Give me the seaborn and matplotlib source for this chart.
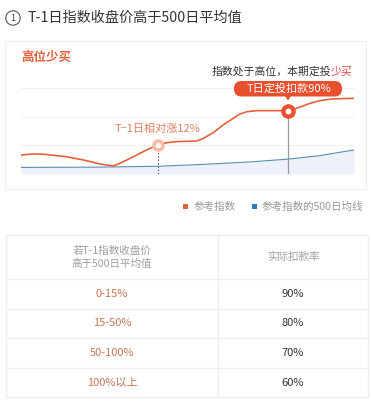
import matplotlib
matplotlib.use("Agg")
import matplotlib.pyplot as plt
import seaborn as sns
import pandas as pd
from matplotlib.patches import Rectangle, FancyBboxPatch, Polygon, Circle

# ---------------- data ----------------
index_x = [0, 3.7, 6.7, 13.7, 18.7, 23.7, 27.7, 29.7, 33.7, 37.7, 41.2, 43.7, 46.7,
           52.7, 54.7, 57.7, 60.7, 63.7, 65.7, 67.7, 70.7, 75.7, 80.3, 82.7, 86.7,
           89.7, 93.7, 100]
index_y = [0.66, 0.70, 0.69, 0.60, 0.49, 0.35, 0.28, 0.37, 0.60, 0.84, 1.01, 1.09, 1.13,
           1.15, 1.24, 1.44, 1.71, 1.94, 2.09, 2.17, 2.21, 2.21, 2.21, 2.29, 2.46,
           2.56, 2.62, 2.64]
ma_x = [0, 23.7, 41.2, 53.7, 68.7, 80.3, 89.7, 100]
ma_y = [0.23, 0.24, 0.27, 0.33, 0.42, 0.52, 0.64, 0.84]
t1_point = (41.2, 1.01)
t_point = (80.3, 2.21)

legend_labels = ["参考指数", "参考指数的500日均线"]
table_header = ["若T-1指数收盘价\n高于500日平均值", "实际扣款率"]
table_ranges = ["0-15%", "15-50%", "50-100%", "100%以上"]
table_rates = ["90%", "80%", "70%", "60%"]

ORANGE = "#e3623c"
RED = "#e8502e"
BLUE = "#5a8db0"
FILL = "#edf2fa"

sns.set_theme(style="white")
plt.rcParams['font.family'] = ['Noto Sans CJK SC', 'DejaVu Sans']

W, H = 371, 408
fig = plt.figure(figsize=(W / 100, H / 100), dpi=100)
fig.patch.set_facecolor("white")

# overlay axes in pixel coordinates (background)
ov = fig.add_axes([0, 0, 1, 1])
ov.set_xlim(0, W)
ov.set_ylim(H, 0)
ov.axis("off")

# title
ov.add_patch(Circle((13, 18), 7.2, fill=False, edgecolor="#555555", lw=0.8))
ov.text(13, 18.3, "1", ha="center", va="center", fontsize=6.5, color="#444444")
ov.text(27, 18, "T-1日指数收盘价高于500日平均值", ha="left", va="center",
        fontsize=10.2, color="#333333")

# chart box
ov.add_patch(Rectangle((5, 41), 361, 148, facecolor="white", edgecolor="#eeeeee", lw=0.8))
ov.text(21, 57, "高位少买", ha="left", va="center", fontsize=9, color=ORANGE,
        fontweight="bold")
t1 = ov.text(352, 72, "少买", ha="right", va="center", fontsize=7.8, color="#e04545")
ov.annotate("指数处于高位，本期定投", xycoords=t1, xy=(0, 0.5), ha="right", va="center",
            textcoords="offset points", xytext=(0.6, 0),
            fontsize=7.8, color="#333333")

# legend
ov.add_patch(Rectangle((182.5, 204), 5, 5, color=ORANGE, lw=0))
ov.text(194, 206.5, legend_labels[0], ha="left", va="center", fontsize=7.6, color="#999999")
ov.add_patch(Rectangle((251.5, 204), 5, 5, color="#2f78c0", lw=0))
ov.text(262, 206.5, legend_labels[1], ha="left", va="center", fontsize=7.6, color="#999999")

# table
tl, tr, tt, tb = 6, 368, 235, 397
xdiv = 218
rows = [tt, 279, 309, 338, 368, tb]
ov.add_patch(Rectangle((tl, tt), tr - tl, tb - tt, fill=False, edgecolor="#eeeeee", lw=1))
ov.plot([xdiv, xdiv], [tt, tb], color="#eeeeee", lw=1)
for r in rows[1:-1]:
    ov.plot([tl, tr], [r, r], color="#eeeeee", lw=1)
c1 = (tl + xdiv) / 2
c2 = (xdiv + tr) / 2
ov.text(c1, 257, table_header[0], ha="center", va="center", fontsize=7.6,
        color="#a0a0a0", linespacing=1.35)
ov.text(c2, 257, table_header[1], ha="center", va="center", fontsize=7.6, color="#a0a0a0")
for i, (rg, rt) in enumerate(zip(table_ranges, table_rates)):
    yc = (rows[i + 1] + rows[i + 2]) / 2
    ov.text(c1, yc, rg, ha="center", va="center", fontsize=8, color="#c47552")
    ov.text(c2, yc, rt, ha="center", va="center", fontsize=8, color="#333333")

# plot axes
px_l, px_r, px_t, px_b = 21, 354, 88, 174
ax = fig.add_axes([px_l / W, 1 - px_b / H, (px_r - px_l) / W, (px_b - px_t) / H])
ax.patch.set_alpha(0)
ax.set_xlim(0, 100)
ax.set_ylim(0, 3)
for g in [1, 2, 3]:
    ax.axhline(g, color="#f1f1f1", lw=0.8, zorder=0, clip_on=False)

df_idx = pd.DataFrame({"x": index_x, "y": index_y})
df_ma = pd.DataFrame({"x": ma_x, "y": ma_y})
ax.fill_between(ma_x, ma_y, 0, color=FILL, lw=0, zorder=1)
sns.lineplot(data=df_ma, x="x", y="y", ax=ax, color=BLUE, lw=0.8, zorder=2)
sns.lineplot(data=df_idx, x="x", y="y", ax=ax, color=ORANGE, lw=1.2, zorder=3)

# vertical guides
ax.plot([t1_point[0], t1_point[0]], [0, t1_point[1]], color="#666666", lw=0.8,
        ls=(0, (1.5, 1.5)), zorder=2)
ax.plot([t_point[0], t_point[0]], [0, t_point[1]], color="#999999", lw=0.9, zorder=2)

# markers
ax.scatter([t1_point[0]], [t1_point[1]], s=80, color="#f6b9a3", zorder=5, lw=0)
ax.scatter([t1_point[0]], [t1_point[1]], s=16, color="white", zorder=6, lw=0)
ax.scatter([t_point[0]], [t_point[1]], s=110, color=RED, zorder=5, lw=0)
ax.scatter([t_point[0]], [t_point[1]], s=18, color="white", zorder=6, lw=0)

ax.text(t1_point[0] - 0.3, t1_point[1] + 0.55, "T−1日相对涨12%", ha="center", va="center",
        fontsize=8, color="#e0805e")

ax.set_xlabel("")
ax.set_ylabel("")
ax.set_xticks([])
ax.set_yticks([])
for s in ax.spines.values():
    s.set_visible(False)

# top overlay for the callout
top = fig.add_axes([0, 0, 1, 1])
top.patch.set_alpha(0)
top.set_xlim(0, W)
top.set_ylim(H, 0)
top.axis("off")
top.add_patch(FancyBboxPatch((234, 81), 108, 15.5, boxstyle="round,pad=0,rounding_size=7.5",
                             facecolor=RED, edgecolor="none"))
top.add_patch(Polygon([[285, 96], [291, 96], [288, 100.5]], closed=True,
                      facecolor=RED, edgecolor="none"))
top.text(289, 88.8, "T日定投扣款90%", ha="center", va="center", fontsize=8, color="white")

fig.savefig("out.png", dpi=100, facecolor="white")
